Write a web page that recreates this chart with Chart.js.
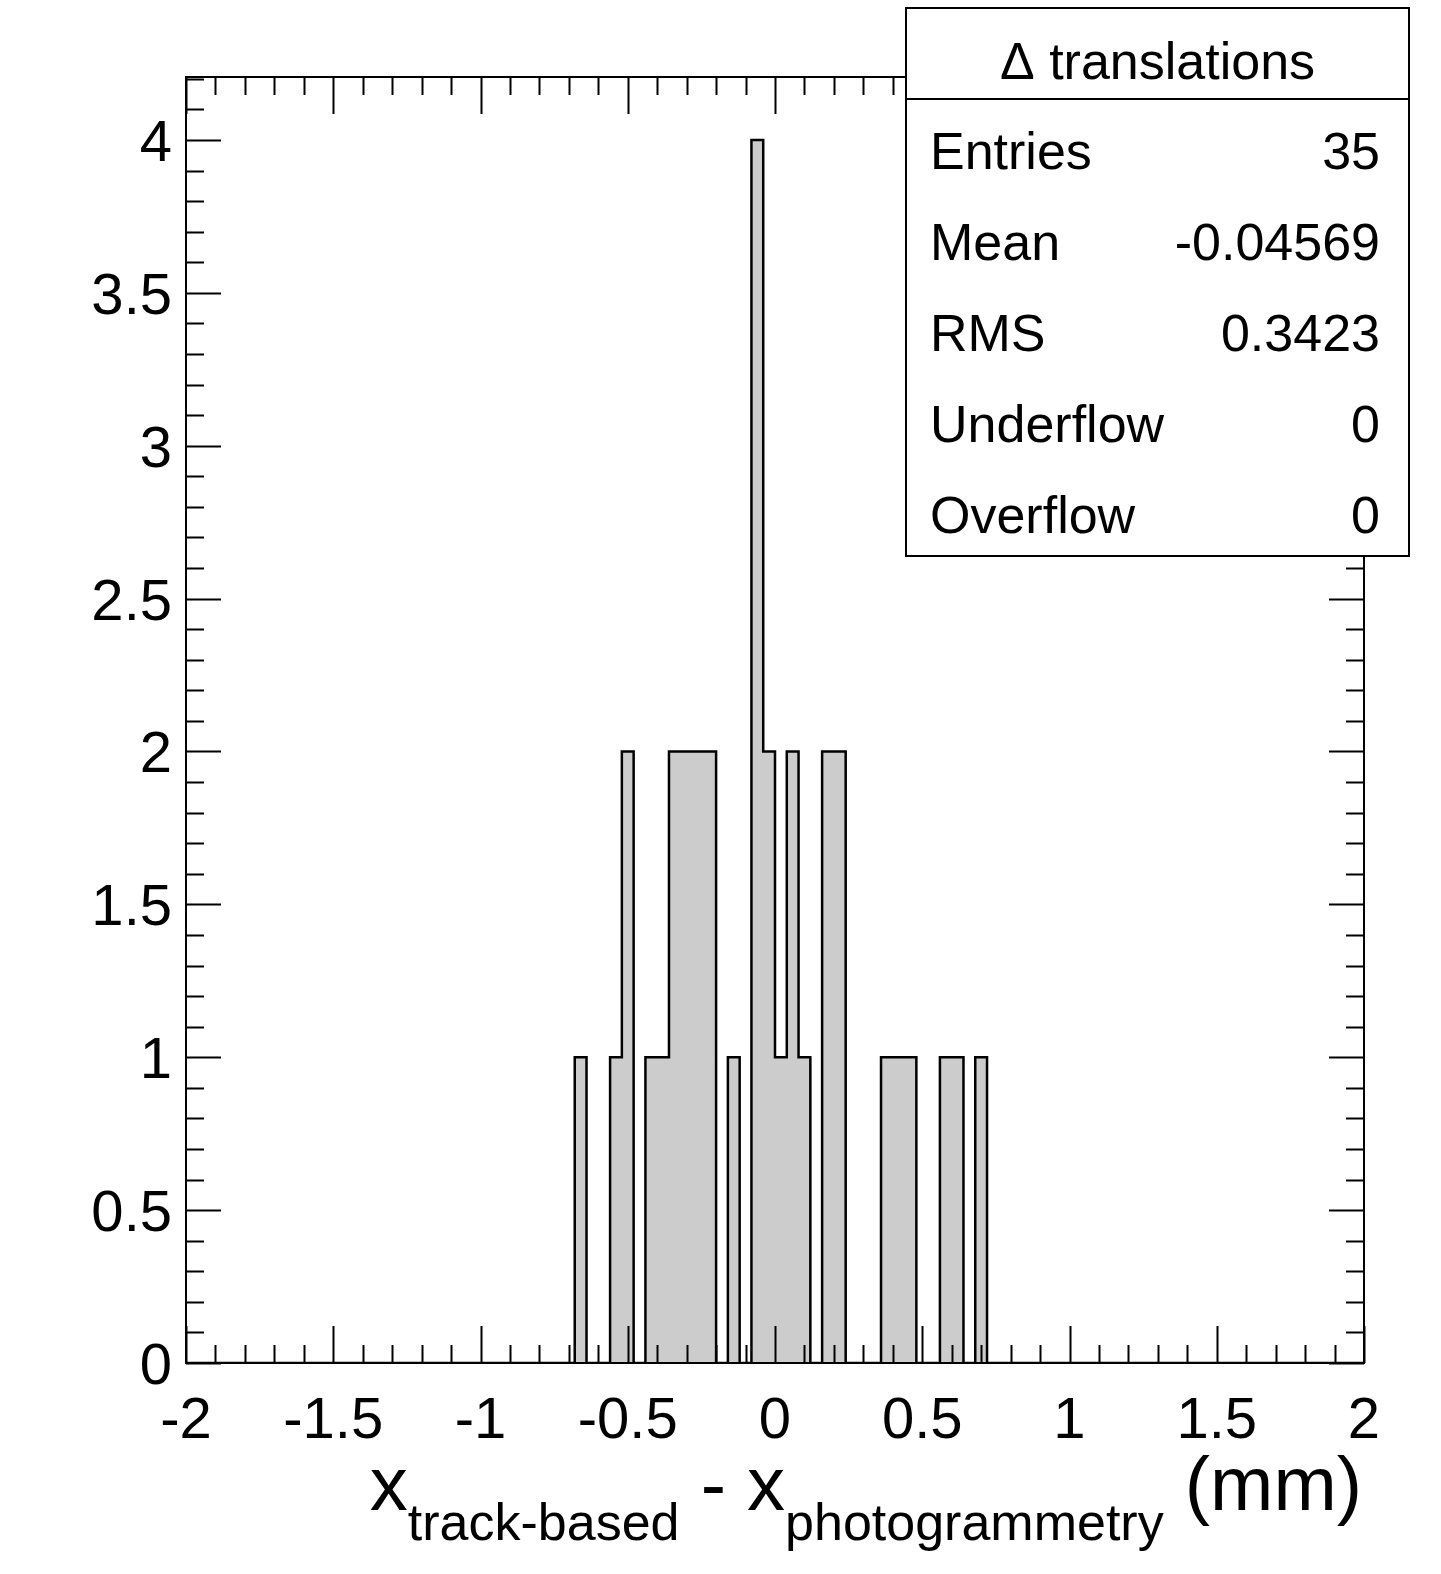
<!DOCTYPE html>
<html>
<head>
<meta charset="utf-8">
<script src="https://cdn.jsdelivr.net/npm/chart.js@4"></script>
<style>
  html, body { margin: 0; padding: 0; background: #fff; overflow: hidden; }
  canvas { display: block; }
</style>
</head>
<body>
<canvas id="histo" width="1441" height="1574"></canvas>
<script>
// histogram: 100 bins from -2 to 2 (width 0.04)
const binLow = -2;
const binWidth = 0.04;
const nBins = 100;
// non-empty bins: bin index -> entries
const filledBins = [33, 36, 37, 39, 40, 41, 42, 43, 44, 46, 48, 49, 50, 51, 52, 54, 55, 59, 60, 61, 64, 65, 67];
const filledCounts = [1, 1, 2, 1, 1, 2, 2, 2, 2, 1, 4, 2, 1, 2, 1, 2, 2, 1, 1, 1, 1, 1, 1];

const xTicks = [-2, -1.5, -1, -0.5, 0, 0.5, 1, 1.5, 2];
const yTicks = [0, 0.5, 1, 1.5, 2, 2.5, 3, 3.5, 4];
const statsTitle = "\u0394 translations";
const statsNames = ["Entries", "Mean", "RMS", "Underflow", "Overflow"];
const statsValues = ["35", "-0.04569", "0.3423", "0", "0"];

let counts = new Array(nBins).fill(0);
filledBins.forEach((b, i) => { counts[b] = filledCounts[i]; });
let points = counts.map((c, i) => ({ x: binLow + i * binWidth, y: c }));
points.push({ x: binLow + nBins * binWidth, y: 0 });

const FONT = "'Liberation Sans', Arial, sans-serif";

// ROOT-like frame, inward ticks, labels, stats box
const rootFrame = {
  id: "rootFrame",
  afterDraw: (chart) => {
    const { ctx, chartArea: a, scales } = chart;
    const xs = scales.x, ys = scales.y;
    ctx.save();
    ctx.strokeStyle = "#000";
    ctx.lineWidth = 2;
    ctx.strokeRect(a.left, a.top, a.width, a.height);

    ctx.beginPath();
    for (let k = 0; k <= 40; k++) {
      const v = -2 + k * 0.1;
      const px = Math.round(xs.getPixelForValue(v)) + 0.5;
      const len = (k % 5 === 0) ? 37 : 18;
      ctx.moveTo(px, a.bottom); ctx.lineTo(px, a.bottom - len);
      ctx.moveTo(px, a.top); ctx.lineTo(px, a.top + len);
    }
    for (let k = 0; k <= 42; k++) {
      const v = k * 0.1;
      const py = Math.round(ys.getPixelForValue(v)) + 0.5;
      const len = (k % 5 === 0) ? 35 : 18;
      ctx.moveTo(a.left, py); ctx.lineTo(a.left + len, py);
      ctx.moveTo(a.right, py); ctx.lineTo(a.right - len, py);
    }
    ctx.stroke();

    ctx.fillStyle = "#000";
    ctx.font = "58px " + FONT;
    ctx.textAlign = "center";
    ctx.textBaseline = "alphabetic";
    xTicks.forEach(v => ctx.fillText(String(v), xs.getPixelForValue(v), 1438));
    ctx.textAlign = "right";
    yTicks.forEach(v => ctx.fillText(String(v), 172, ys.getPixelForValue(v) + 21));

    // axis title with subscripts
    const parts = [
      ["x", 76, 0], ["track-based", 52, 30], [" - x", 76, 0],
      ["photogrammetry", 52, 30], [" (mm)", 76, 0]
    ];
    let total = 0;
    parts.forEach(p => { ctx.font = p[1] + "px " + FONT; total += ctx.measureText(p[0]).width; });
    let cx = 1362 - total;
    ctx.textAlign = "left";
    parts.forEach(p => {
      ctx.font = p[1] + "px " + FONT;
      ctx.fillText(p[0], cx, 1510 + p[2]);
      cx += ctx.measureText(p[0]).width;
    });

    // stats box
    const bx = 906, by = 8, bw = 503, bh = 548;
    ctx.fillStyle = "#fff";
    ctx.fillRect(bx, by, bw, bh);
    ctx.strokeRect(bx, by, bw, bh);
    ctx.beginPath(); ctx.moveTo(bx, 99); ctx.lineTo(bx + bw, 99); ctx.stroke();
    ctx.fillStyle = "#000";
    ctx.font = "52px " + FONT;
    ctx.textAlign = "center";
    ctx.fillText(statsTitle, bx + bw / 2, 79);
    statsNames.forEach((n, i) => {
      const yy = 169 + i * 91;
      ctx.textAlign = "left"; ctx.fillText(n, 930, yy);
      ctx.textAlign = "right"; ctx.fillText(statsValues[i], 1380, yy);
    });
    ctx.restore();
  }
};

new Chart(document.getElementById("histo"), {
  type: "line",
  data: {
    datasets: [{
      data: points,
      stepped: true,
      fill: "origin",
      backgroundColor: "#cccccc",
      borderColor: "#000",
      borderWidth: 2.5,
      pointRadius: 0
    }]
  },
  options: {
    responsive: false,
    animation: false,
    layout: { padding: { left: 186, top: 77, right: 77, bottom: 211 } },
    plugins: { legend: { display: false }, tooltip: { enabled: false } },
    scales: {
      x: { type: "linear", min: -2, max: 2, display: false },
      y: { min: 0, max: 4.206, display: false }
    }
  },
  plugins: [rootFrame]
});
</script>
</body>
</html>
